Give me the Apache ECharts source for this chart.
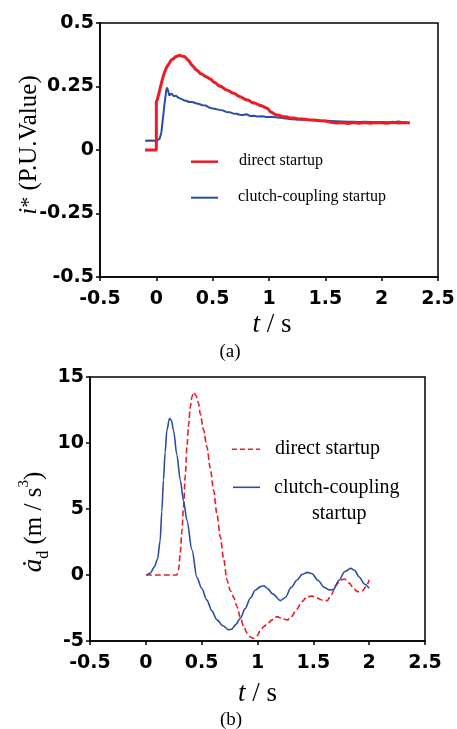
<!DOCTYPE html>
<html><head><meta charset="utf-8">
<script src="https://cdn.jsdelivr.net/npm/echarts@6/dist/echarts.min.js"></script>
<style>html,body{margin:0;padding:0;background:#fff}#c{width:457px;height:729px}</style>
</head><body><div id="c"></div>
<script>
// ---- (a) current i* (P.U. value) ----
const tRedA = [-0.1,0,0,0.01,0.02,0.035,0.05,0.07,0.09,0.11,0.13,0.15,0.17,0.19,0.21,0.23,0.25,0.27,0.29,0.31,0.33,0.35,0.37,0.39,0.41,0.43,0.45,0.47,0.49,0.51,0.53,0.55,0.58,0.61,0.64,0.67,0.70,0.73,0.76,0.79,0.82,0.85,0.88,0.91,0.94,0.97,0.99,1.01,1.03,1.06,1.09,1.12,1.15,1.18,1.22,1.26,1.30,1.35,1.40,1.45,1.50,1.55,1.60,1.65,1.70,1.75,1.80,1.85,1.90,1.95,2.00,2.05,2.10,2.15,2.20,2.25];
const vRedA = [0,0,0.19,0.2,0.218,0.245,0.272,0.303,0.325,0.338,0.353,0.359,0.367,0.37,0.373,0.369,0.368,0.359,0.351,0.337,0.328,0.317,0.311,0.301,0.298,0.291,0.287,0.281,0.277,0.267,0.263,0.254,0.249,0.239,0.234,0.226,0.221,0.212,0.207,0.199,0.196,0.187,0.184,0.177,0.173,0.167,0.163,0.151,0.147,0.139,0.137,0.131,0.131,0.127,0.126,0.122,0.122,0.119,0.118,0.115,0.114,0.109,0.106,0.108,0.104,0.108,0.105,0.108,0.105,0.108,0.107,0.105,0.109,0.106,0.108,0.106];
const tBlueA = [-0.1,-0.05,0,0.015,0.03,0.045,0.06,0.075,0.088,0.095,0.105,0.115,0.125,0.135,0.145,0.155,0.165,0.175,0.185,0.195,0.21,0.23,0.25,0.27,0.29,0.32,0.35,0.38,0.41,0.44,0.47,0.50,0.53,0.56,0.59,0.62,0.65,0.68,0.71,0.74,0.77,0.80,0.83,0.86,0.90,0.94,0.98,1.02,1.06,1.10,1.15,1.20,1.25,1.30,1.35,1.40,1.45,1.50,1.55,1.60,1.65,1.70,1.75,1.80,1.85,1.90,1.95,2.00,2.05,2.10,2.15,2.20,2.25];
const vBlueA = [0.036,0.037,0.036,0.038,0.045,0.07,0.13,0.19,0.235,0.246,0.232,0.215,0.208,0.222,0.226,0.212,0.205,0.214,0.216,0.206,0.2,0.199,0.195,0.193,0.189,0.189,0.184,0.181,0.176,0.175,0.167,0.163,0.161,0.158,0.156,0.15,0.149,0.144,0.143,0.139,0.138,0.141,0.134,0.135,0.132,0.133,0.13,0.13,0.129,0.127,0.124,0.121,0.12,0.119,0.118,0.117,0.116,0.115,0.114,0.113,0.112,0.111,0.111,0.11,0.111,0.11,0.109,0.11,0.109,0.109,0.112,0.108,0.107];

// ---- (b) jerk ȧd (m/s^3) ----
const tRedB = [0,0.1,0.2,0.278,0.293,0.308,0.323,0.338,0.353,0.368,0.383,0.398,0.413,0.428,0.45,0.472,0.487,0.517,0.547,0.577,0.607,0.637,0.667,0.697,0.727,0.757,0.787,0.817,0.846,0.876,0.906,0.936,0.966,0.996,1.026,1.056,1.09,1.13,1.176,1.22,1.266,1.30,1.35,1.40,1.445,1.49,1.535,1.58,1.625,1.66,1.70,1.744,1.78,1.82,1.86,1.894,1.94,1.97,2.0];
const vRedB = [0,0,0,0,0.4,1.65,3.3,5.2,7.5,9.7,11.4,12.7,13.5,13.84,13.6,13.0,12.2,11.0,9.7,8.1,6.4,4.6,2.9,1.2,-0.4,-1.2,-1.7,-2.4,-3.2,-3.9,-4.4,-4.7,-4.8,-4.6,-4.2,-3.9,-3.7,-3.4,-3.15,-3.3,-3.4,-3.2,-2.6,-2.0,-1.64,-1.6,-1.75,-1.9,-1.94,-1.5,-0.8,-0.38,-0.3,-0.6,-1.0,-1.26,-1.2,-0.9,-0.38];
const tBlueB = [0.009,0.04,0.075,0.105,0.128,0.143,0.158,0.173,0.188,0.212,0.23,0.248,0.278,0.308,0.338,0.368,0.413,0.458,0.5,0.547,0.59,0.637,0.69,0.742,0.77,0.8,0.846,0.89,0.936,0.98,1.026,1.056,1.086,1.14,1.205,1.25,1.30,1.355,1.40,1.445,1.49,1.54,1.60,1.64,1.68,1.73,1.78,1.834,1.87,1.91,1.96,2.0];
const vBlueB = [0,0.15,0.6,1.2,2.6,4.8,7.2,9.3,10.95,11.88,11.7,10.95,9.1,7.2,5.6,4.15,1.9,-0.2,-1.0,-1.9,-2.7,-3.4,-3.85,-4.15,-4.1,-3.8,-3.3,-2.55,-1.74,-1.15,-0.88,-0.82,-1.0,-1.45,-1.94,-1.7,-0.95,-0.38,0.05,0.2,0.1,-0.4,-0.95,-1.13,-1.1,-0.4,0.25,0.5,0.35,-0.15,-0.7,-1.0];

const xTicks = {min:-0.5, max:2.5, interval:0.5};
const yTicksA = {min:-0.5, max:0.5, interval:0.25};
const yTicksB = {min:-5, max:15, interval:5};

const RED = '#ed1c24', BLUE = '#2b4ea2';
const SERIF = 'Liberation Serif';
const zip = (t, v) => t.map((x, i) => [x, v[i]]);

const axisCommon = {
  type:'value',
  axisLine:{show:true, onZero:false, lineStyle:{color:'#000', width:1.5}},
  axisTick:{show:true, inside:false, length:4, lineStyle:{color:'#000', width:1.5}},
  axisLabel:{color:'#000', fontFamily:'DejaVu Sans', fontWeight:'bold', fontSize:19, showMinLabel:true, showMaxLabel:true},
  splitLine:{show:false}
};
function xAx(g){ return Object.assign({}, axisCommon, xTicks, {gridIndex:g, axisLabel:Object.assign({}, axisCommon.axisLabel, {margin:13})}); }
function yAx(g, t){ return Object.assign({}, axisCommon, t, {gridIndex:g, axisLabel:Object.assign({}, axisCommon.axisLabel, {margin:6})}); }

const chart = echarts.init(document.getElementById('c'), null, {renderer:'canvas'});
const txt = (x, y, text, size, extra) => ({type:'text', x, y, silent:true,
  style:Object.assign({text, fontFamily:SERIF, fontSize:size, fill:'#000', align:'left', verticalAlign:'middle'}, extra||{})});

chart.setOption({
  animation:false,
  backgroundColor:'#fff',
  grid:[
    {left:100, top:23, width:338, height:254, show:true, borderColor:'#000', borderWidth:1.5, outerBoundsMode:'none'},
    {left:90, top:377, width:335, height:264, show:true, borderColor:'#000', borderWidth:1.5, outerBoundsMode:'none'}
  ],
  xAxis:[xAx(0), xAx(1)],
  yAxis:[yAx(0, yTicksA), yAx(1, yTicksB)],
  series:[
    {type:'line', name:'clutch-coupling startup', xAxisIndex:0, yAxisIndex:0, data:zip(tBlueA, vBlueA), showSymbol:false, lineStyle:{color:BLUE, width:2}, z:2},
    {type:'line', name:'direct startup', xAxisIndex:0, yAxisIndex:0, data:zip(tRedA, vRedA), showSymbol:false, lineStyle:{color:RED, width:3}, z:3},
    {type:'line', name:'direct startup b', xAxisIndex:1, yAxisIndex:1, data:zip(tRedB, vRedB), showSymbol:false, smooth:0.3, smoothMonotone:'x', lineStyle:{color:RED, width:1.6, type:[6,3]}, z:2},
    {type:'line', name:'clutch-coupling startup b', xAxisIndex:1, yAxisIndex:1, data:zip(tBlueB, vBlueB), showSymbol:false, smooth:0.3, smoothMonotone:'x', lineStyle:{color:BLUE, width:1.6}, z:3}
  ],
  graphic:[
    // (a) legend
    {type:'line', silent:true, shape:{x1:191, y1:161.7, x2:218, y2:161.7}, style:{stroke:RED, lineWidth:2.5}},
    txt(239, 161, 'direct startup', 16),
    {type:'line', silent:true, shape:{x1:191, y1:197.7, x2:218, y2:197.7}, style:{stroke:BLUE, lineWidth:2}},
    txt(238, 197, 'clutch-coupling startup', 16),
    // (a) axis titles
    {type:'text', x:29, y:145, rotation:Math.PI/2, silent:true,
      style:{text:'{i|i}{s|*}{n| (P.U.Value)}', align:'center', verticalAlign:'middle', fill:'#000',
        rich:{i:{fontFamily:SERIF, fontStyle:'italic', fontSize:25, fill:'#000'},
              s:{fontFamily:SERIF, fontSize:22, fill:'#000'},
              n:{fontFamily:SERIF, fontSize:25, fill:'#000'}}}},
    {type:'text', x:272, y:325, silent:true,
      style:{text:'{i|t}{n| / s}', align:'center', verticalAlign:'middle', fill:'#000',
        rich:{i:{fontFamily:SERIF, fontStyle:'italic', fontSize:27, fill:'#000'}, n:{fontFamily:SERIF, fontSize:27, fill:'#000'}}}},
    txt(230, 352, '(a)', 19, {align:'center'}),
    // (b) legend
    {type:'line', silent:true, shape:{x1:232, y1:449.3, x2:260, y2:449.3}, style:{stroke:RED, lineWidth:1.6, lineDash:[5,3]}},
    txt(275, 449, 'direct startup', 20),
    {type:'line', silent:true, shape:{x1:233, y1:487.3, x2:260, y2:487.3}, style:{stroke:BLUE, lineWidth:1.6}},
    txt(274, 488, 'clutch-coupling', 20),
    txt(312, 514, 'startup', 20),
    // (b) axis titles
    {type:'text', x:34, y:522, rotation:Math.PI/2, silent:true,
      style:{text:'{a|ȧ}{d|d}{n| (m / s}{p|3}{n|)}', align:'center', verticalAlign:'middle', fill:'#000',
        rich:{a:{fontFamily:SERIF, fontStyle:'italic', fontSize:27, fill:'#000', lineHeight:30},
              d:{fontFamily:SERIF, fontSize:16, fill:'#000', verticalAlign:'bottom', lineHeight:30, padding:[0,0,-3,0]},
              n:{fontFamily:SERIF, fontSize:25, fill:'#000', lineHeight:30},
              p:{fontFamily:SERIF, fontSize:15, fill:'#000', verticalAlign:'top', lineHeight:30, padding:[-2,0,0,0]}}}},
    {type:'text', x:257.5, y:694, silent:true,
      style:{text:'{i|t}{n| / s}', align:'center', verticalAlign:'middle', fill:'#000',
        rich:{i:{fontFamily:SERIF, fontStyle:'italic', fontSize:27, fill:'#000'}, n:{fontFamily:SERIF, fontSize:27, fill:'#000'}}}},
    txt(231, 720, '(b)', 19, {align:'center'})
  ]
});
</script></body></html>
